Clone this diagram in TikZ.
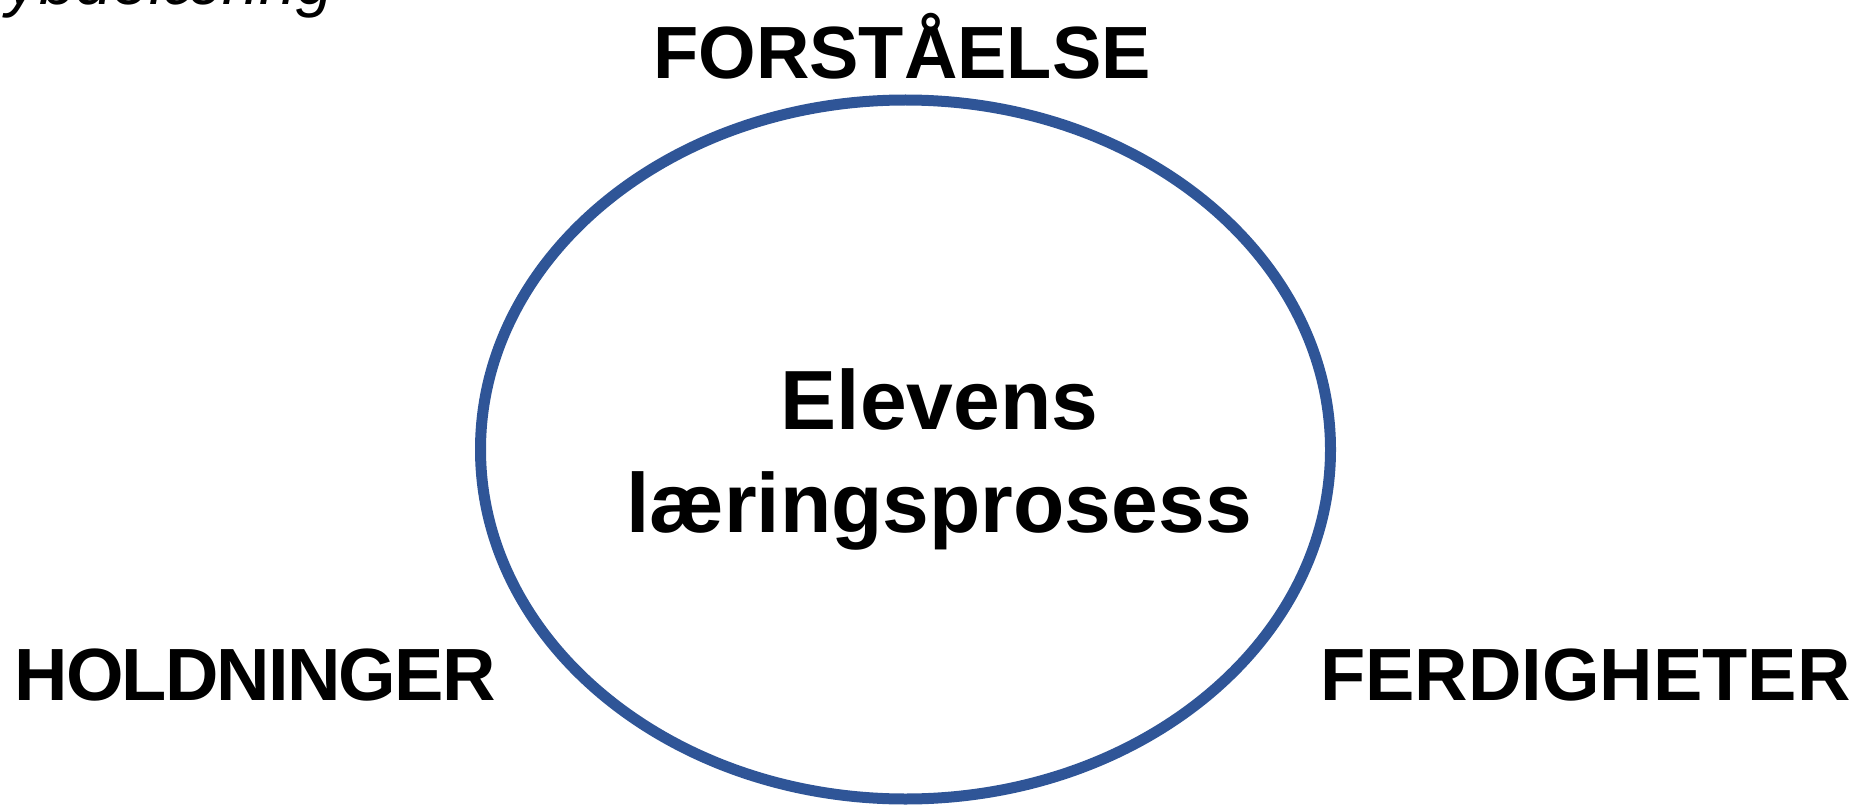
\documentclass[tikz,border=0pt]{standalone}
\usepackage{fontspec}
\usetikzlibrary{shapes.geometric}
\setmainfont{Liberation Sans}
\definecolor{ringblue}{RGB}{47,85,151}
\begin{document}
\begin{tikzpicture}[x=1pt,y=-1pt,
  label/.style={font=\bfseries\fontsize{74}{89}\selectfont, inner sep=0pt, anchor=base},
  centretext/.style={font=\bfseries\fontsize{84}{103}\selectfont, inner sep=0pt, anchor=base},
  ring/.style={draw=ringblue, line width=11pt}]
\useasboundingbox (0,0) rectangle (1857,805);
\clip (0,0) rectangle (1857,805);
\node[ring, ellipse, minimum width=850pt, minimum height=699pt, inner sep=0pt, outer sep=0pt] (ring) at (905.5,449.5) {};
\node[font=\itshape\fontsize{66}{80}\selectfont, inner sep=0pt, anchor=base east] (title) at (333,5) {dybdelæring};
\node[label] (forst) at (902,79) {FORSTÅELSE};
\node[label] (hold) at (255,700) {\addfontfeature{LetterSpace=-2.5}HOLDNINGER};
\node[label] (ferd) at (1585.5,700) {FERDIGHETER};
\node[centretext] (elev) at (939.5,429) {Elevens};
\node[centretext] (laer) at (939,532) {læringsprosess};
\end{tikzpicture}
\end{document}
